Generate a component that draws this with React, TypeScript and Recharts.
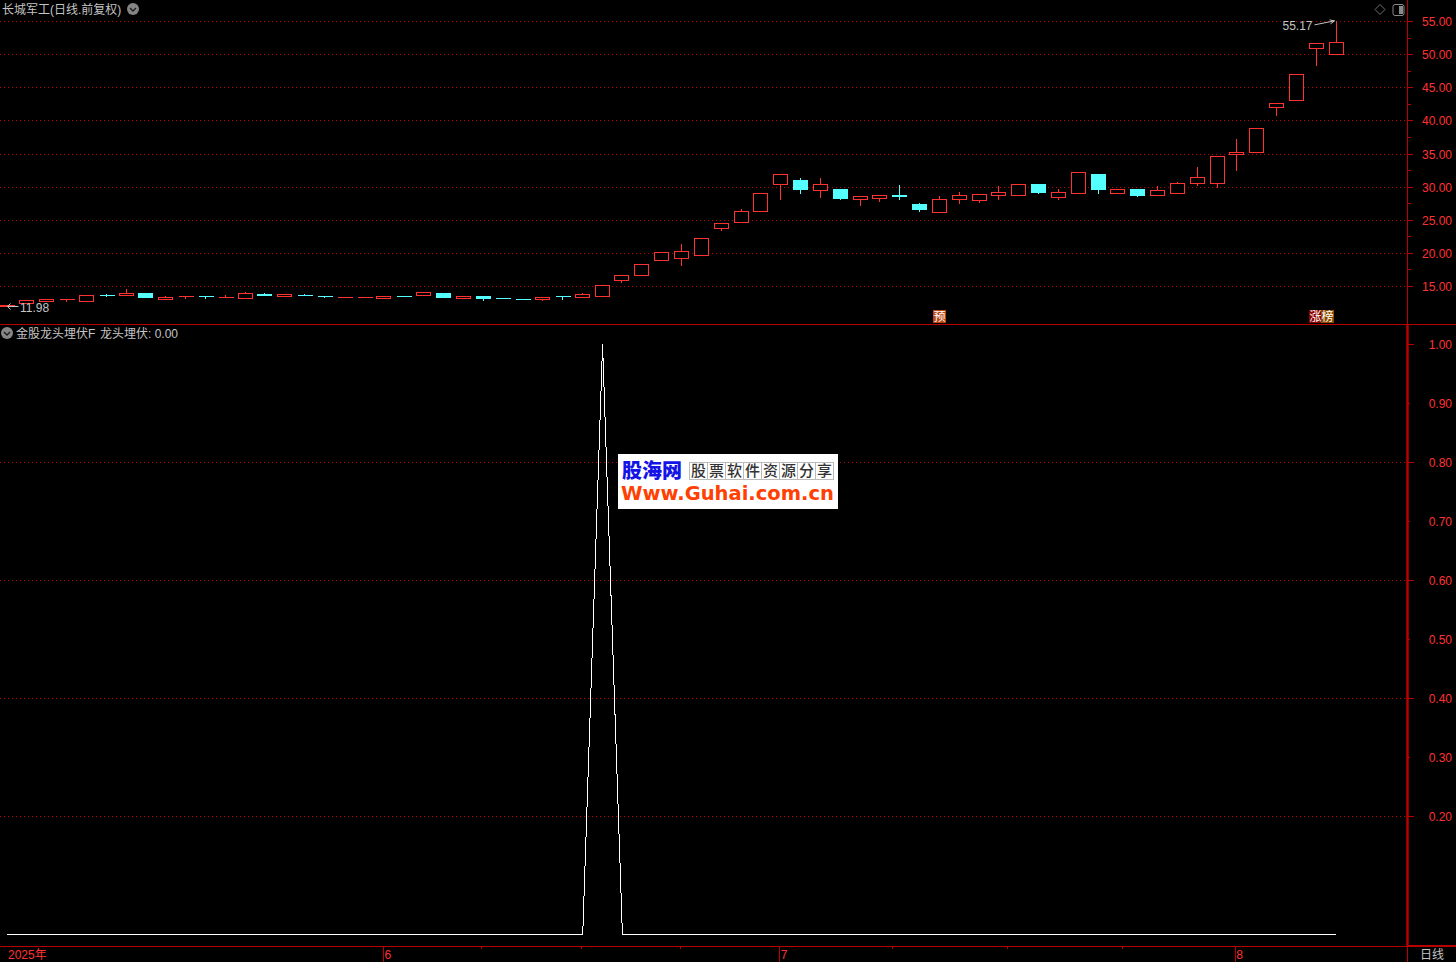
import React from 'react';
import {
  ComposedChart,
  Bar,
  Line,
  XAxis,
  YAxis,
  CartesianGrid,
  ReferenceDot,
} from 'recharts';

const opens = [
  12.0, 12.37, 12.68, 13.0, 12.74, 13.66, 13.58, 13.99, 13.08, 13.47, 13.51, 13.32, 13.13, 13.84, 13.43, 13.71, 13.51,
  13.32, 13.32, 13.23, 13.51, 13.58, 13.99, 13.23, 13.54, 13.2, 13.05, 13.08, 13.51, 13.28, 13.43, 15.85, 16.6, 18.87,
  19.17, 19.62, 23.69, 24.6, 26.26, 30.34, 31.04, 29.54, 29.69, 28.07, 28.22, 28.78, 27.42, 26.11, 28.07, 27.92, 28.68,
  28.68, 30.44, 28.38, 28.98, 31.95, 28.98, 29.69, 28.68, 28.98, 30.49, 30.49, 34.86, 35.17, 41.96, 43.01, 50.86, 50.02,
];
const closes = [
  12.15, 12.89, 13.04, 13.04, 13.64, 13.62, 13.99, 13.28, 13.38, 13.5, 13.47, 13.35, 13.94, 13.58, 13.84, 13.67, 13.47,
  13.35, 13.35, 13.54, 13.47, 14.09, 13.38, 13.54, 13.23, 13.17, 13.02, 13.38, 13.47, 13.79, 15.15, 16.66, 18.32, 20.13,
  20.28, 22.25, 24.51, 26.32, 29.04, 31.9, 29.69, 30.44, 28.33, 28.58, 28.73, 28.52, 26.67, 28.13, 28.73, 28.89, 29.19,
  30.4, 29.24, 29.19, 32.2, 29.69, 29.64, 28.78, 29.49, 30.55, 31.45, 34.62, 35.23, 38.85, 42.62, 47.0, 51.68, 51.83,
];
const highs = [
  12.15, 13.08, 13.04, 13.04, 13.64, 13.94, 14.7, 13.99, 13.69, 13.5, 13.69, 13.84, 14.29, 14.03, 13.84, 13.89, 13.69,
  13.35, 13.54, 13.54, 13.69, 14.29, 13.99, 13.54, 13.54, 13.2, 13.05, 13.54, 13.69, 14.14, 15.15, 16.66, 18.32, 20.13,
  21.54, 22.25, 24.51, 26.8, 29.04, 31.9, 31.5, 31.5, 29.84, 28.58, 28.73, 30.44, 27.72, 28.78, 29.39, 29.08, 30.29,
  30.4, 30.6, 29.84, 32.2, 31.95, 29.79, 29.69, 30.29, 30.89, 33.16, 34.62, 37.38, 38.85, 42.62, 47.0, 51.68, 55.17,
];
const lows = [
  11.98, 12.37, 12.68, 12.68, 12.74, 13.43, 13.58, 13.28, 13.08, 13.23, 13.23, 13.32, 13.13, 13.58, 13.43, 13.67, 13.28,
  13.32, 13.32, 13.23, 13.47, 13.58, 13.38, 13.23, 12.93, 13.17, 13.02, 12.93, 13.08, 13.28, 13.43, 15.55, 16.6, 18.87,
  18.22, 19.62, 23.5, 24.6, 26.26, 28.18, 29.08, 28.48, 28.18, 27.27, 27.87, 28.18, 26.37, 26.11, 27.47, 27.62, 28.07,
  28.68, 29.08, 28.07, 28.98, 28.98, 28.98, 28.53, 28.68, 28.98, 30.19, 29.88, 32.45, 35.17, 40.86, 43.01, 48.4, 50.02,
];
const signal = [
  0, 0, 0, 0, 0, 0, 0, 0, 0, 0, 0, 0, 0, 0, 0, 0, 0, 0, 0, 0, 0, 0, 0, 0, 0, 0, 0, 0, 0, 0, 1, 0, 0, 0,
  0, 0, 0, 0, 0, 0, 0, 0, 0, 0, 0, 0, 0, 0, 0, 0, 0, 0, 0, 0, 0, 0, 0, 0, 0, 0, 0, 0, 0, 0, 0, 0, 0, 0,
];

const priceTicks = [15, 17.5, 20, 22.5, 25, 27.5, 30, 32.5, 35, 37.5, 40, 42.5, 45, 47.5, 50, 52.5, 55];
const priceGrid = [15, 20, 25, 30, 35, 40, 45, 50, 55];
const signalTicks = [0.2, 0.3, 0.4, 0.5, 0.6, 0.7, 0.8, 0.9, 1];
const signalGrid = [0.2, 0.4, 0.6, 0.8];
const monthTicks = [0, 18.95, 38.93, 61.9];
const monthLabels = ['2025年', '6', '7', '8'];
const subTicks = [23.92, 28.94, 33.93, 44.64, 50.39, 56.2];

const candles = opens.map((open, i) => ({ i, open, close: closes[i], high: highs[i], low: lows[i] }));
const signalData = signal.map((value, i) => ({ i, value }));

const FONT = '"Liberation Sans", "Noto Sans CJK SC", sans-serif';
const RED = '#ff3232';
const CYAN = '#54ffff';
const AXIS = '#b80000';
const GRID = '#b80000';
const GREY = '#c4c4c4';

// one candle is 19.836px wide, the first one is centred on x=7.5
const X_DOMAIN = [-0.378, 70.58];

const Candle = (props: any) => {
  const { x, y, width, height, payload } = props;
  const unit = height / (payload.high - payload.low);
  const row = (v: number) => Math.floor(y + (payload.high - v) * unit) + 0.5;
  const cx = Math.floor(x + width / 2) + 0.5;
  const up = payload.close >= payload.open;
  const color = up ? RED : CYAN;
  const top = row(Math.max(payload.open, payload.close));
  const bottom = row(Math.min(payload.open, payload.close));
  return (
    <g shapeRendering="crispEdges">
      <line x1={cx} x2={cx} y1={row(payload.high)} y2={row(payload.low) + 0.5} stroke={color} />
      {bottom > top ? (
        <rect x={cx - 7} y={top} width={14} height={bottom - top} fill={up ? '#000' : CYAN} stroke={color} />
      ) : (
        <line x1={cx - 7} x2={cx + 8} y1={top} y2={top} stroke={color} />
      )}
    </g>
  );
};

const PriceTick = (props: any) => {
  const { x, y, payload } = props;
  const major = payload.value % 5 === 0;
  return (
    <g>
      <line x1={x} x2={x + (major ? 5 : 3)} y1={y} y2={y} stroke={AXIS} shapeRendering="crispEdges" />
      {major && (
        <text x={1452} y={y + 4.5} textAnchor="end" fontSize={12} fontFamily={FONT} fill={RED}>
          {payload.value.toFixed(2)}
        </text>
      )}
    </g>
  );
};

const SignalTick = (props: any) => {
  const { x, y, payload } = props;
  const major = signalGrid.includes(payload.value) || payload.value === 1;
  return (
    <g>
      <line x1={x} x2={x + (major ? 6 : 2)} y1={y} y2={y} stroke={AXIS} shapeRendering="crispEdges" />
      <text x={1452} y={y + 5} textAnchor="end" fontSize={12} fontFamily={FONT} fill={RED}>
        {payload.value.toFixed(2)}
      </text>
    </g>
  );
};

const DateTick = (props: any) => {
  const { x, y, payload } = props;
  const idx = monthTicks.indexOf(payload.value);
  if (idx < 0) {
    return <line x1={x} x2={x} y1={y} y2={y + 3} stroke={AXIS} shapeRendering="crispEdges" />;
  }
  return (
    <g>
      {idx > 0 && <line x1={x} x2={x} y1={y} y2={y + 16} stroke={AXIS} shapeRendering="crispEdges" />}
      <text x={x + (idx > 0 ? 1 : 0.5)} y={y + 13} fontSize={12} fontFamily={FONT} fill={RED}>
        {monthLabels[idx]}
      </text>
    </g>
  );
};

const HighMark = ({ cx, cy }: any) => (
  <g fill="none" stroke={GREY}>
    <path d={`M${cx - 22} ${cy + 4.5} L${cx - 2} ${cy + 0.5} M${cx - 7} ${cy - 0.5} L${cx - 2} ${cy + 0.5} L${cx - 6} ${cy + 3.5}`} />
    <text x={cx - 24} y={cy + 9.5} textAnchor="end" fontSize={12} fontFamily={FONT} fill={GREY} stroke="none">
      55.17
    </text>
  </g>
);

const LowMark = ({ cx, cy }: any) => (
  <g fill="none" stroke={GREY}>
    <path d={`M${cx} ${cy} L${cx + 11} ${cy} M${cx + 3} ${cy - 3} L${cx} ${cy} L${cx + 3} ${cy + 3}`} />
    <text x={cx + 12.5} y={cy + 5.5} fontSize={12} fontFamily={FONT} fill={GREY} stroke="none">
      11.98
    </text>
  </g>
);

const RoundIcon = ({ x, y }: { x: number; y: number }) => (
  <g>
    <circle cx={x} cy={y} r={6} fill="#858585" />
    <path d={`M${x - 3} ${y - 1} L${x} ${y + 2} L${x + 3} ${y - 1}`} fill="none" stroke="#1c1c1c" strokeWidth={1.4} />
  </g>
);

const TagBox = ({ x, y, fill, text }: { x: number; y: number; fill: string; text: string }) => (
  <g>
    <rect x={x} y={y} width={13} height={13} fill={fill} />
    <text x={x + 0.5} y={y + 11} fontSize={12} fontFamily={FONT} fill="#fff">
      {text}
    </text>
  </g>
);

const Overlay = () => (
  <svg width={1456} height={962} style={{ position: 'absolute', left: 0, top: 0, pointerEvents: 'none' }}>
    <text x={2} y={14} fontSize={12} fontFamily={FONT} fill={GREY}>
      长城军工(日线.前复权)
    </text>
    <RoundIcon x={133} y={9} />
    <path d="M1380 4.5 L1385 9.5 L1380 14.5 L1375 9.5 Z" fill="none" stroke="#6e6e6e" />
    <rect x={1393} y={4.5} width={11} height={11} rx={2} fill="none" stroke="#8a8a8a" />
    <rect x={1399} y={6} width={4} height={8} fill="#8a8a8a" />

    <line x1={0} x2={1456} y1={324.5} y2={324.5} stroke={AXIS} shapeRendering="crispEdges" />
    <RoundIcon x={7} y={333} />
    <text x={16} y={338} fontSize={12} fontFamily={FONT} fill={GREY}>
      金股龙头埋伏F
    </text>
    <text x={100} y={338} fontSize={12} fontFamily={FONT} fill={GREY}>
      龙头埋伏: 0.00
    </text>

    <TagBox x={933} y={310} fill="#b8450f" text="预" />
    <TagBox x={1309} y={310} fill="#8c0000" text="涨" />
    <TagBox x={1321} y={310} fill="#8c4a00" text="榜" />

    <rect x={1407} y={945} width={49} height={2} fill={AXIS} />
    <line x1={1407.5} x2={1407.5} y1={946} y2={962} stroke={AXIS} shapeRendering="crispEdges" />
    <text x={1420} y={959} fontSize={12} fontFamily={FONT} fill={GREY}>
      日线
    </text>
  </svg>
);

const LOGO_CHARS = ['股', '票', '软', '件', '资', '源', '分', '享'];

const Logo = () => (
  <div style={{ position: 'absolute', left: 618, top: 454, width: 220, height: 55, background: '#fff', overflow: 'hidden' }}>
    <div style={{ position: 'absolute', left: 4, top: 4, fontFamily: FONT, fontWeight: 900, fontSize: 20, lineHeight: '26px', color: '#1414e6' }}>
      股海网
    </div>
    <div style={{ position: 'absolute', left: 71, top: 8, display: 'flex', border: '1px solid #bbb' }}>
      {LOGO_CHARS.map((c, i) => (
        <div
          key={i}
          style={{
            width: 17,
            height: 16,
            borderLeft: i ? '1px solid #bbb' : 'none',
            textAlign: 'center',
            fontFamily: FONT,
            fontWeight: 500,
            fontSize: 15,
            lineHeight: '16px',
            color: '#333',
          }}
        >
          {c}
        </div>
      ))}
    </div>
    <div style={{ position: 'absolute', left: 3, top: 27, fontFamily: '"DejaVu Sans", sans-serif', fontWeight: 700, fontSize: 19.5, lineHeight: '26px', color: '#ff4000', whiteSpace: 'nowrap' }}>
      Www.Guhai.com.cn
    </div>
  </div>
);

export default function App() {
  return (
    <div style={{ position: 'relative', width: 1456, height: 962, background: '#000', overflow: 'hidden' }}>
      <style>{'body{margin:0;background:#000}'}</style>
      <div style={{ position: 'absolute', left: 0, top: 0 }}>
        <ComposedChart width={1456} height={325} data={candles} margin={{ top: 0, right: 0, bottom: 0, left: 0 }}>
          <CartesianGrid
            vertical={false}
            horizontalValues={priceGrid}
            stroke={GRID}
            strokeDasharray="1 3"
            shapeRendering="crispEdges"
          />
          <XAxis dataKey="i" type="number" domain={X_DOMAIN} allowDataOverflow hide />
          <YAxis
            orientation="right"
            width={48.5}
            domain={[9.189, 58.245]}
            allowDataOverflow
            ticks={priceTicks}
            interval={0}
            tick={<PriceTick />}
            tickLine={false}
            tickSize={0}
            tickMargin={0}
            axisLine={{ stroke: AXIS, shapeRendering: 'crispEdges' }}
          />
          <Bar
            dataKey={(d: any) => [d.low, d.high]}
            barSize={15}
            shape={<Candle />}
            isAnimationActive={false}
          />
          <ReferenceDot x={67} y={55.17} r={0} ifOverflow="visible" shape={<HighMark />} />
          <ReferenceDot x={0} y={11.98} r={0} ifOverflow="visible" shape={<LowMark />} />
        </ComposedChart>
      </div>
      <div style={{ position: 'absolute', left: 0, top: 325 }}>
        <ComposedChart width={1456} height={637} data={signalData} margin={{ top: 0, right: 0, bottom: 0, left: 0 }}>
          <CartesianGrid
            vertical={false}
            horizontalValues={signalGrid}
            stroke={GRID}
            strokeDasharray="1 3"
            shapeRendering="crispEdges"
          />
          <XAxis
            dataKey="i"
            type="number"
            domain={X_DOMAIN}
            allowDataOverflow
            height={16}
            ticks={[...monthTicks, ...subTicks]}
            interval={0}
            tick={<DateTick />}
            tickLine={false}
            tickSize={0}
            tickMargin={0}
            axisLine={{ stroke: AXIS, shapeRendering: 'crispEdges' }}
          />
          <YAxis
            orientation="right"
            width={48.5}
            domain={[-0.0195, 1.033]}
            allowDataOverflow
            ticks={signalTicks}
            interval={0}
            tick={<SignalTick />}
            tickLine={false}
            tickSize={0}
            tickMargin={0}
            axisLine={{ stroke: AXIS, strokeWidth: 2.5 }}
          />
          <Line
            dataKey="value"
            type="linear"
            stroke="#fff"
            strokeWidth={1}
            dot={false}
            shapeRendering="crispEdges"
            isAnimationActive={false}
          />
        </ComposedChart>
      </div>
      <Overlay />
      <Logo />
    </div>
  );
}
